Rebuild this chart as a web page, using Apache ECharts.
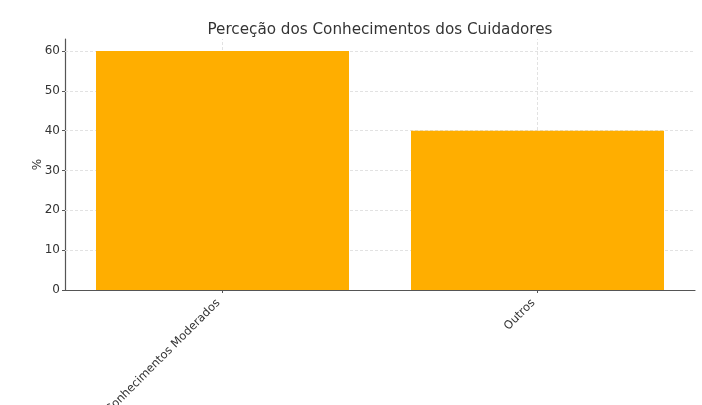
<!DOCTYPE html>
<html><head><meta charset="utf-8">
<script src="https://cdn.jsdelivr.net/npm/echarts@6/dist/echarts.min.js"></script>
<style>html,body{margin:0;padding:0;background:#fff;overflow:hidden}#c{width:702px;height:405px}</style>
</head><body><div id="c"></div>
<script>
const titleText = 'Perceção dos Conhecimentos dos Cuidadores';
const categories = ['Conhecimentos Moderados', 'Outros'];
const values = [60, 40];
const yTicks = [0, 10, 20, 30, 40, 50, 60];

const chart = echarts.init(document.getElementById('c'), null, {renderer: 'canvas'});
const font = 'DejaVu Sans';
const gridStyle = {color: '#e2e2e2', type: [3, 2], width: 1};
const gridLines = yTicks.slice(1).map(v => ({yAxis: v}))
  .concat(categories.map(c => ({xAxis: c})));
chart.setOption({
  animation: false,
  backgroundColor: '#fff',
  title: {
    text: titleText, left: 375, top: 18, textAlign: 'center',
    textStyle: {fontFamily: font, fontSize: 15.2, fontWeight: 'normal', color: '#333'}
  },
  grid: {left: 65, right: 7, top: 39, bottom: 115, containLabel: false, outerBoundsMode: 'none'},
  xAxis: {
    type: 'category', data: categories, boundaryGap: true,
    axisLine: {lineStyle: {color: '#555', width: 1.2}},
    axisTick: {show: true, alignWithLabel: true, length: 3, lineStyle: {color: '#555'}},
    axisLabel: {rotate: 45, fontFamily: font, fontSize: 11.5, color: '#333', margin: 7, interval: 0,
      padding: [0, 6, 0, 0]},
    splitLine: {show: false}
  },
  yAxis: {
    type: 'value', min: 0, max: 63, interval: 10,
    name: '%', nameLocation: 'middle', nameGap: 21, nameRotate: 90, nameMoveOverlap: false,
    nameTextStyle: {fontFamily: font, fontSize: 12, color: '#333'},
    axisLine: {show: true, lineStyle: {color: '#555', width: 1.2}},
    axisTick: {show: true, length: 3, lineStyle: {color: '#555'}},
    axisLabel: {fontFamily: font, fontSize: 12, color: '#333', margin: 5, showMaxLabel: false,
      formatter: v => yTicks.includes(v) ? String(v) : ''},
    splitLine: {show: false}
  },
  series: [{
    type: 'bar', data: values, barWidth: 253,
    itemStyle: {color: '#FFAE00'},
    markLine: {
      silent: true, symbol: 'none', z: 1, animation: false,
      label: {show: false},
      lineStyle: gridStyle,
      data: gridLines
    }
  }]
});
</script></body></html>
